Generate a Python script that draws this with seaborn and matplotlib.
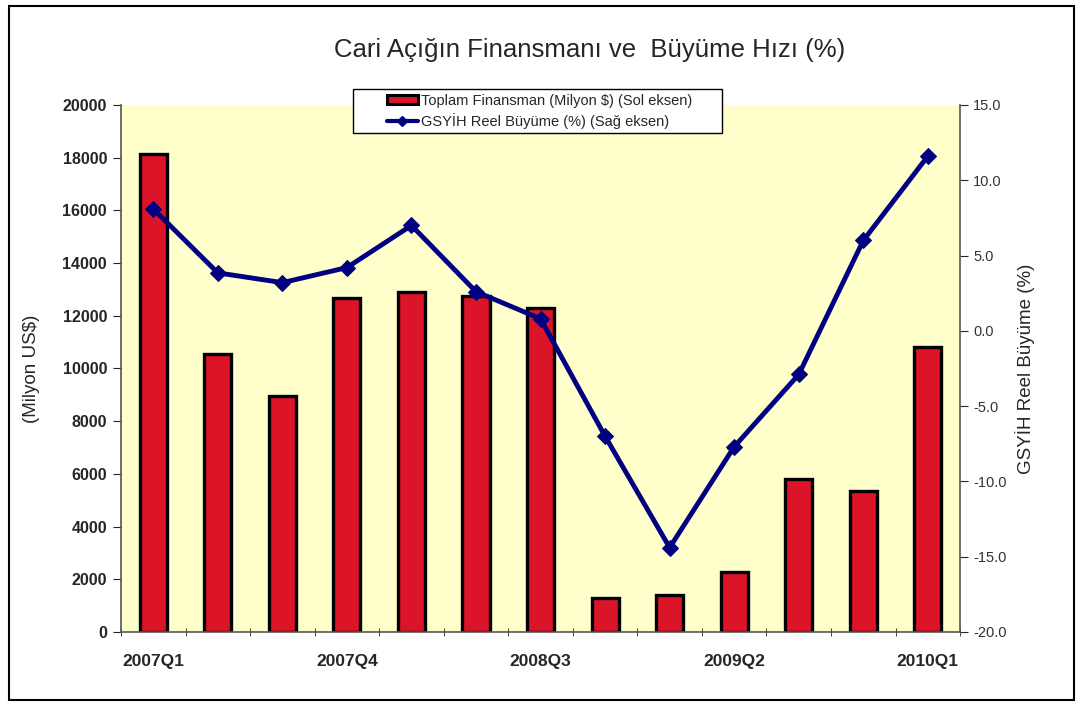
import numpy as np
import pandas as pd
import matplotlib
matplotlib.use("Agg")
import matplotlib.pyplot as plt
import seaborn as sns
from matplotlib.patches import Rectangle
from matplotlib.lines import Line2D

quarters = ["2007Q1", "2007Q2", "2007Q3", "2007Q4", "2008Q1", "2008Q2", "2008Q3",
            "2008Q4", "2009Q1", "2009Q2", "2009Q3", "2009Q4", "2010Q1"]
financing = [18140, 10550, 8960, 12680, 12900, 12750, 12300,
             1290, 1400, 2280, 5800, 5350, 10820]
growth = [8.1, 3.85, 3.2, 4.2, 7.0, 2.6, 0.8, -7.0, -14.4, -7.7, -2.9, 6.0, 11.6]
shown_labels = ["2007Q1", "2007Q4", "2008Q3", "2009Q2", "2010Q1"]

sns.set_style("white")
plt.rcParams['font.family'] = ['Liberation Sans', 'DejaVu Sans']

df = pd.DataFrame({"quarter": quarters, "financing": financing, "growth": growth})
df["pos"] = np.arange(len(df))

fig = plt.figure(figsize=(10.8, 7.04), dpi=100)
ax = fig.add_axes([0.112, 0.1023, 0.777, 0.7486])
ax.set_facecolor("#FFFFCC")

sns.barplot(data=df, x="quarter", y="financing", color="#DC1428", width=0.42,
            edgecolor="black", linewidth=2.4, saturation=1, ax=ax)
ax.set_ylim(0, 20000)
ax.set_xlim(-0.5, len(df) - 0.5)
ax.set_yticks(range(0, 20001, 2000))
ax.tick_params(axis="y", labelsize=11.5, length=6, direction="out", left=True, pad=4)
for lbl in ax.get_yticklabels():
    lbl.set_fontweight("bold")
ax.set_ylabel("(Milyon US$)", fontsize=13.5, labelpad=16)
ax.set_xlabel("")

# category labels on centres, tick marks on boundaries
ax.set_xticks(df["pos"])
ax.set_xticklabels([q if q in shown_labels else "" for q in df["quarter"]],
                   fontsize=12.5, fontweight="bold")
ax.tick_params(axis="x", length=0, pad=16)
ax.set_xticks(np.arange(-0.5, len(df)), minor=True)
ax.tick_params(axis="x", which="minor", length=6, direction="inout", bottom=True)

for s in ["left", "bottom"]:
    ax.spines[s].set_color("#555555")
    ax.spines[s].set_linewidth(1.2)
ax.spines["top"].set_visible(False)
ax.spines["right"].set_visible(False)

ax2 = ax.twinx()
sns.lineplot(data=df, x="pos", y="growth", color="#000080", linewidth=3.5,
             marker="D", markersize=8, markeredgecolor="#000080", ax=ax2)
ax2.set_ylim(-20, 15)
ax2.set_yticks(np.arange(-20, 15.1, 5))
ax2.set_yticklabels([f"{v:.1f}" for v in np.arange(-20, 15.1, 5)])
ax2.tick_params(axis="y", labelsize=10.5, length=6, direction="out", right=True,
                labelcolor="#333333")
ax2.set_ylabel("GSYİH Reel Büyüme (%)", fontsize=13.5, labelpad=6)
ax2.set_xlabel("")
for s in ["top", "left", "bottom"]:
    ax2.spines[s].set_visible(False)
ax2.spines["right"].set_color("#555555")
ax2.spines["right"].set_linewidth(1.2)

# legend box is wider than its contents, so draw the frame separately
fig.patches.append(Rectangle((353 / 1080, 1 - 133 / 704), 369 / 1080, 44 / 704,
                             transform=fig.transFigure, facecolor="white",
                             edgecolor="black", linewidth=1, zorder=4))
handles = [
    Rectangle((0, 0), 1, 1, facecolor="#DC1428", edgecolor="black", linewidth=2.2),
    Line2D([0], [0], color="#000080", linewidth=3, marker="D", markersize=5),
]
leg = fig.legend(handles, ["Toplam Finansman (Milyon $) (Sol eksen)",
                           "GSYİH Reel Büyüme (%) (Sağ eksen)"],
                 loc="upper left", bbox_to_anchor=(387 / 1080, 1 - 94 / 704),
                 fontsize=10.5, frameon=False, borderpad=0,
                 handlelength=2.1, handleheight=0.6, handletextpad=0.2,
                 labelspacing=0.35, borderaxespad=0)
leg.set_zorder(5)

fig.text(0.546, 0.929, "Cari Açığın Finansmanı ve  Büyüme Hızı (%)",
         ha="center", va="center", fontsize=18.5)

fig.patches.append(Rectangle((0.008, 0.006), 0.986, 0.985, transform=fig.transFigure,
                             fill=False, edgecolor="black", linewidth=1.5))

fig.savefig("out.png", dpi=100)
plt.close(fig)
